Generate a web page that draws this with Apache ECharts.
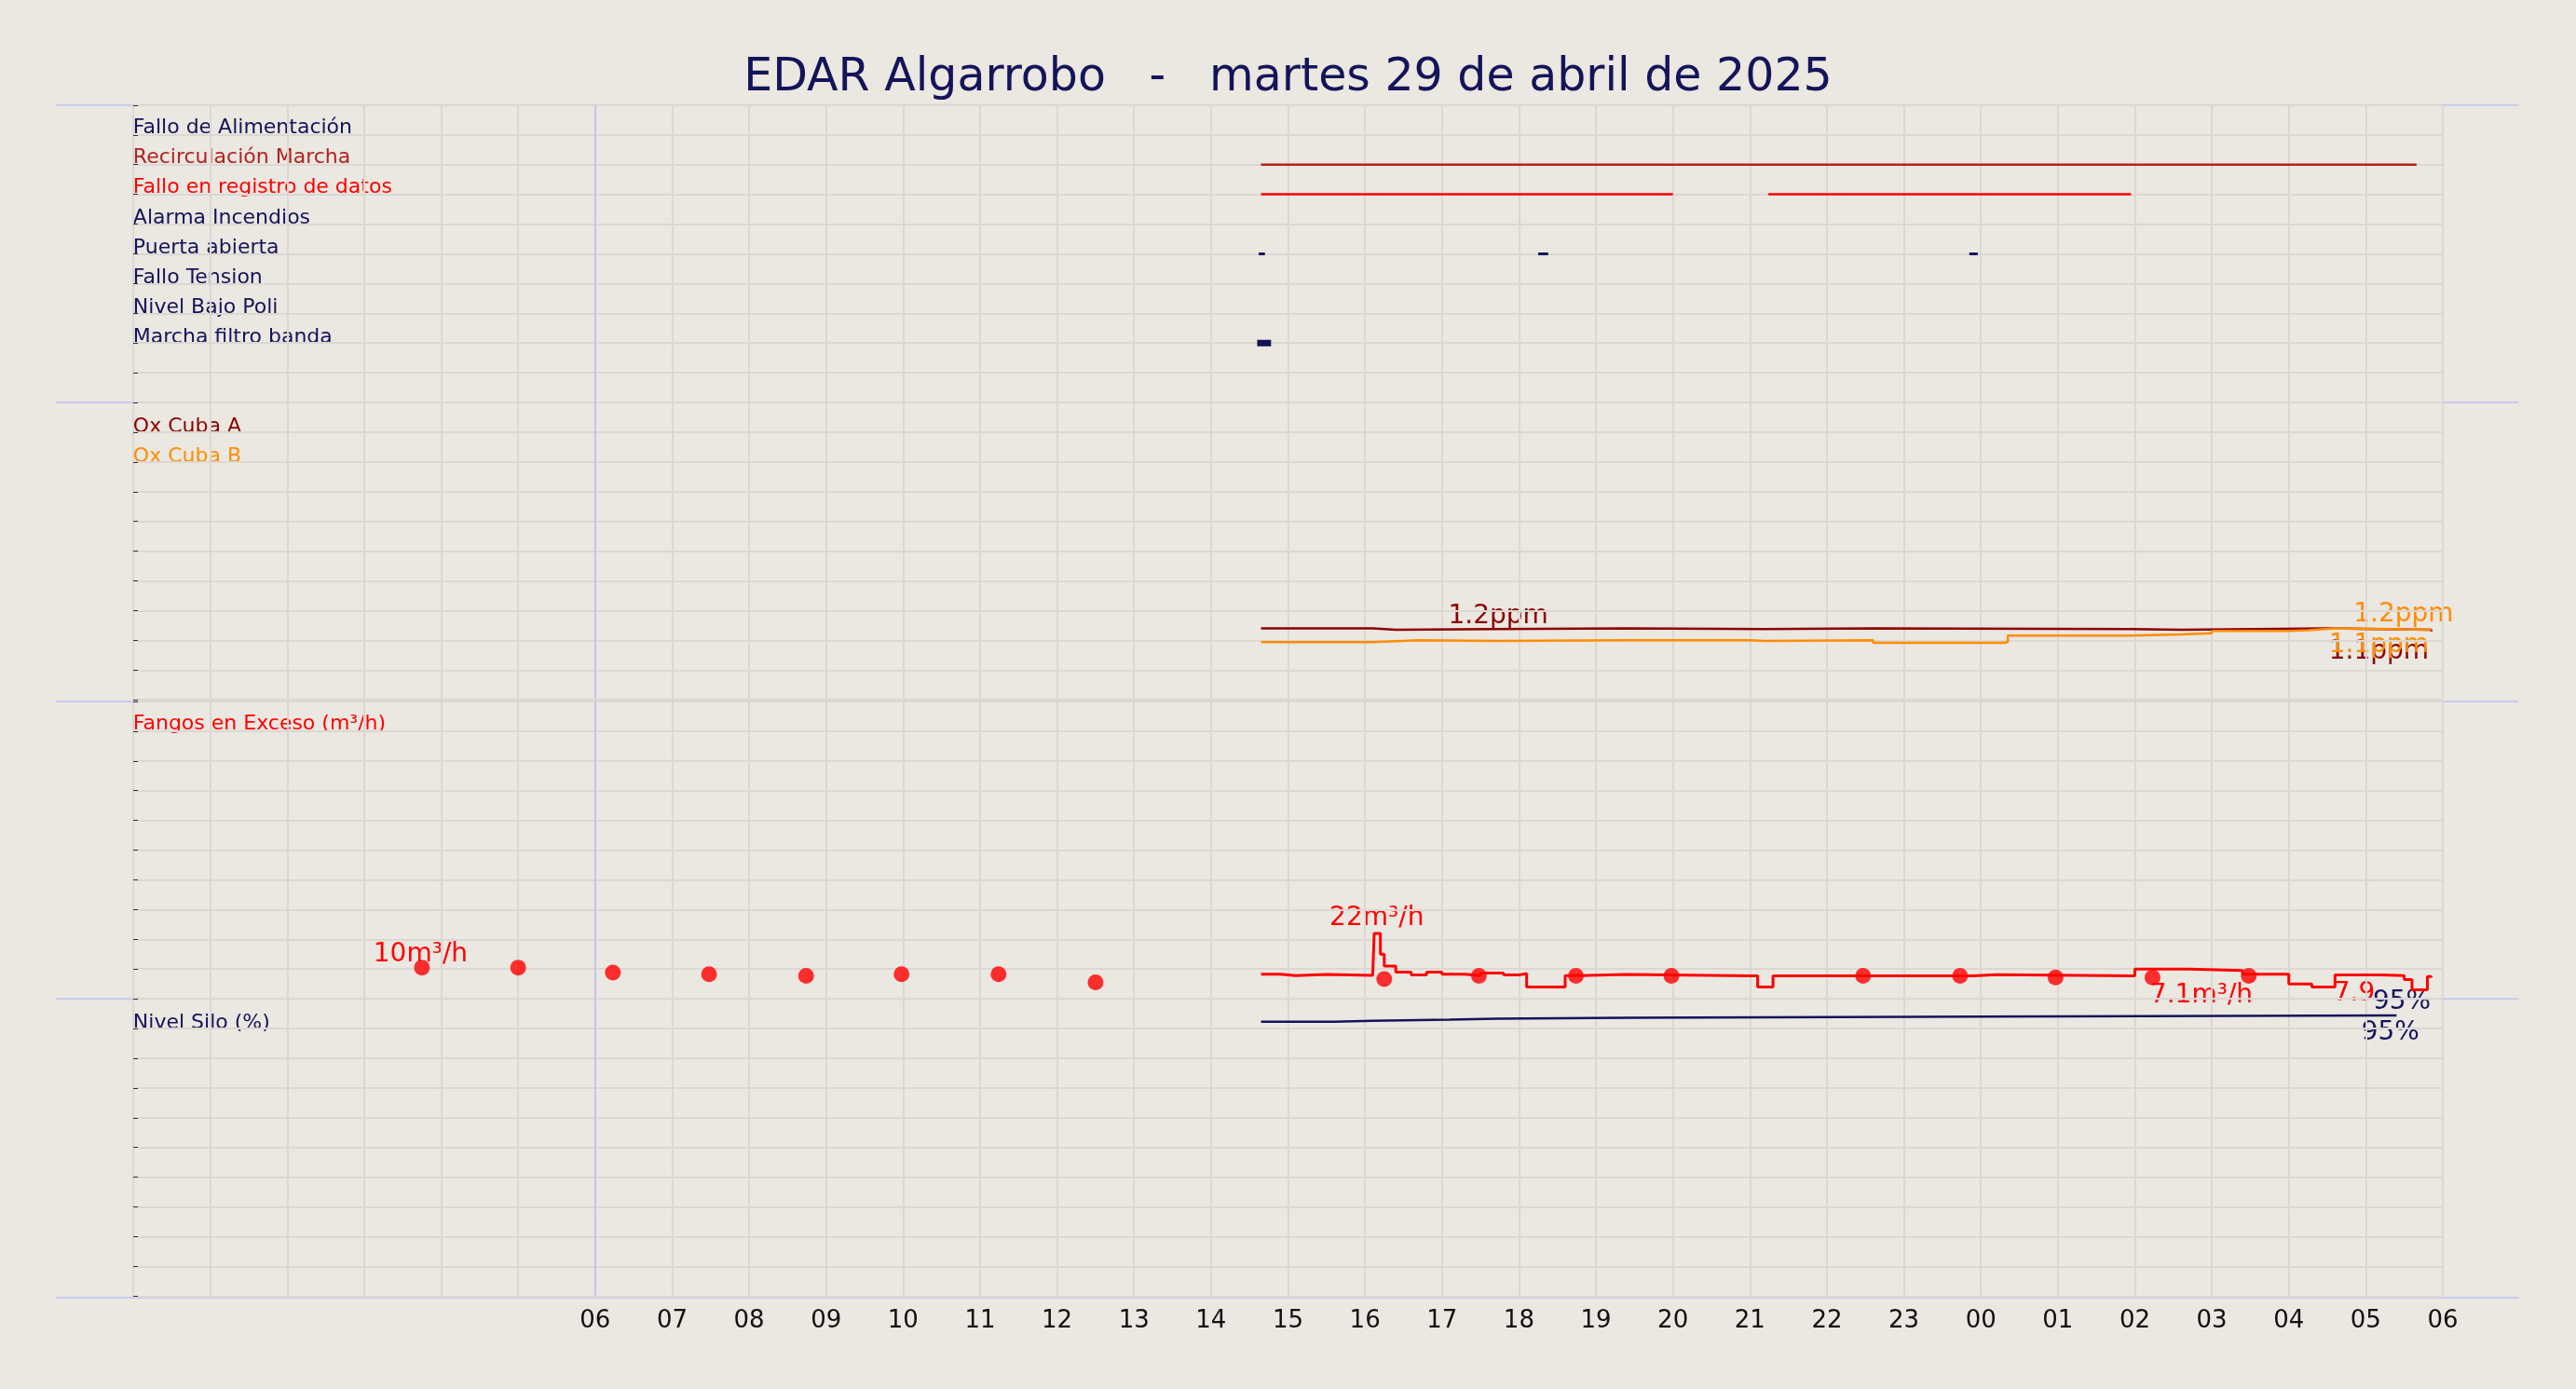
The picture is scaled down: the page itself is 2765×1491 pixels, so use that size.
<!DOCTYPE html>
<html><head><meta charset="utf-8">
<script src="https://cdn.jsdelivr.net/npm/echarts@6/dist/echarts.min.js"></script>
<style>html,body{margin:0;background:#ebe7e1}#c{width:2765px;height:1491px}</style>
</head><body><div id="c"></div>
<script>
const recirc=[[14.65,8],[29.66,8]];
const falloReg=[[14.65,7],[20.0,7],[20.5,'-'],[21.24,7],[25.95,7]];
const puerta=[[14.62,5],[14.7,5],[14.8,'-'],[18.25,5],[18.38,5],[18.5,'-'],[23.85,5],[23.96,5]];
const filtro=[[14.6,2],[14.78,2]];
const oxA=[[14.65,1.2],[16.1,1.18],[16.4,1.19],[17.7,1.2],[19.4,1.19],[21.2,1.2],[22.6,1.19],[25.95,1.18],[26.6,1.19],[27.6,1.2],[28.5,1.18],[29.85,1.15]];
const oxB=[[14.65,0.97],[16.1,1.0],[16.7,0.99],[17.7,1.0],[19.4,1.0],[21.0,0.99],[21.2,1.0],[22.6,0.96],[24.3,0.97],[24.35,1.08],[25.95,1.1],[26.6,1.12],[27.0,1.16],[28.0,1.17],[28.25,1.2],[28.6,1.19],[29.3,1.18],[29.85,1.17]];
const fangos=[[14.65,8.3],[14.9,7.8],[15.1,8.2],[15.5,7.9],[16.1,8.3],[16.12,22],[16.2,15],[16.25,11],[16.4,9],[16.6,8],[16.8,9],[17.0,8.3],[17.3,7.8],[17.5,8.7],[17.8,8],[18.0,8.5],[18.1,4],[18.5,4],[18.6,7.8],[18.8,8.2],[19.4,7.7],[21.0,7.7],[21.1,4],[21.3,7.7],[23.8,7.7],[23.9,8.1],[24.2,7.7],[25.95,7.7],[26.0,10],[26.7,9.5],[27.4,8.3],[28.0,5],[28.3,4],[28.6,8],[29.2,7.8],[29.5,6.5],[29.6,3],[29.8,7.5],[29.85,7.2]];
const fangosPts=[[3.75,10.5],[5.0,10.5],[6.23,8.8],[7.48,8.3],[8.74,7.7],[9.98,8.3],[11.24,8.3],[12.5,5.5],[16.25,6.6],[17.48,7.7],[18.74,7.7],[19.98,7.7],[22.47,7.7],[23.73,7.7],[24.97,7.2],[26.23,7.2],[27.48,7.7]];
const silo=[[14.65,92.3],[15.6,92.6],[16.1,93],[17.1,93.3],[17.7,93.6],[19.4,94],[24.0,94.4],[29.4,94.4]];
const panel1Labels=[['Fallo de Alimentación','#14145a'],['Recirculación Marcha','#b22222'],['Fallo en registro de datos','#ff0000'],['Alarma Incendios','#14145a'],['Puerta abierta','#14145a'],['Fallo Tension','#14145a'],['Nivel Bajo Poli','#14145a'],['Marcha filtro banda','#14145a']];
const hourLabels=h=>h<6?'':String(h%24).padStart(2,'0');

const S=1.7634, navy='#14145a';
const tops=[64,245,427,608].map(v=>v*S), H=181*S;
const maxes=[10,5,100,100];
const grids=tops.map(t=>({left:143,right:143,top:t,height:H}));
const xAxes=grids.map((g,i)=>({gridIndex:i,type:'value',min:0,max:30,interval:1,
 axisLine:{show:false},axisTick:{show:false},
 axisLabel:{show:i===3,formatter:hourLabels,fontSize:26,color:'#111',margin:14,fontFamily:'DejaVu Sans'},
 splitLine:{show:true,lineStyle:{color:'#dcd7d2',width:2}}}));
const yAxes=grids.map((g,i)=>({gridIndex:i,type:'value',min:0,max:maxes[i],interval:maxes[i]/10,
 axisLabel:{show:false},axisLine:{show:false},axisTick:{show:true,inside:false,length:5,lineStyle:{color:'#333'}},position:'right',
 splitLine:{show:true,lineStyle:{color:'#dcd7d2',width:2}}}));
function line(i,data,color,w,step){return {type:'line',xAxisIndex:i,yAxisIndex:i,data,step:step?'end':false,showSymbol:false,connectNulls:false,lineStyle:{color,width:w},itemStyle:{color},silent:true,animation:false};}
const series=[
 line(0,recirc,'#b22222',2.5),line(0,falloReg,'#ff0000',2.5),line(0,puerta,navy,3),line(0,filtro,navy,7),
 line(1,oxA,'#8b0000',2.5,true),line(1,oxB,'#ff8c00',2.5,true),
 line(2,fangos,'#ff0000',3,true),
 {type:'scatter',xAxisIndex:2,yAxisIndex:2,data:fangosPts,symbolSize:17,itemStyle:{color:'#ff0000'},animation:false},
 line(3,silo,navy,2.5,true)
];
series[0].markLine={silent:true,symbol:'none',label:{show:false},lineStyle:{color:'#c4c4f0',width:2,type:'solid'},data:[{xAxis:6}]};
[1,2,3].forEach(i=>{series.push({type:'line',xAxisIndex:i,yAxisIndex:i,data:[],markLine:{silent:true,symbol:'none',label:{show:false},lineStyle:{color:'#c4c4f0',width:2,type:'solid'},data:[{xAxis:6}]}});});
const gr=[];
const txt=(x,y,t,c,fs,align)=>gr.push({type:'text',x:x*S,y:y*S,style:{text:t,fill:c,font:`${fs}px "DejaVu Sans"`,textAlign:align||'left',textVerticalAlign:'middle'}});
panel1Labels.forEach((l,k)=>txt(81,78+k*18.2,l[0],l[1],22));
txt(81,260,'Ox Cuba A','#8b0000',22);txt(81,278,'Ox Cuba B','#ff8c00',22);
txt(81,441,'Fangos en Exceso (m³/h)','#ff0000',22);
txt(81,623,'Nivel Silo (%)',navy,22);
txt(912,375,'1.2ppm','#8b0000',28,'center');txt(1463,374,'1.2ppm','#ff8c00',28,'center');
txt(1448,397,'1.1ppm','#8b0000',28,'center');txt(1448,393,'1.1ppm','#ff8c00',28,'center');
txt(256,581,'10m³/h','#ff0000',28,'center');txt(838,559,'22m³/h','#ff0000',28,'center');
txt(1340,606,'7.1m³/h','#ff0000',28,'center');txt(1433,605,'7.9','#ff0000',28,'center');
txt(1462,610,'95%',navy,28,'center');txt(1455,629,'95%',navy,28,'center');
[64,245,427,608,790].forEach(y=>gr.push({type:'line',shape:{x1:34*S,y1:y*S,x2:1533*S,y2:y*S},style:{stroke:'#c8c8f0',lineWidth:2}}));
const ch=echarts.init(document.getElementById('c'));
ch.setOption({backgroundColor:'#ebe7e1',animation:false,
 title:{text:'EDAR Algarrobo   -   martes 29 de abril de 2025',left:'center',top:55,textStyle:{color:navy,fontSize:49,fontWeight:'normal',fontFamily:'DejaVu Sans'}},
 grid:grids,xAxis:xAxes,yAxis:yAxes,series,graphic:gr});
</script></body></html>
